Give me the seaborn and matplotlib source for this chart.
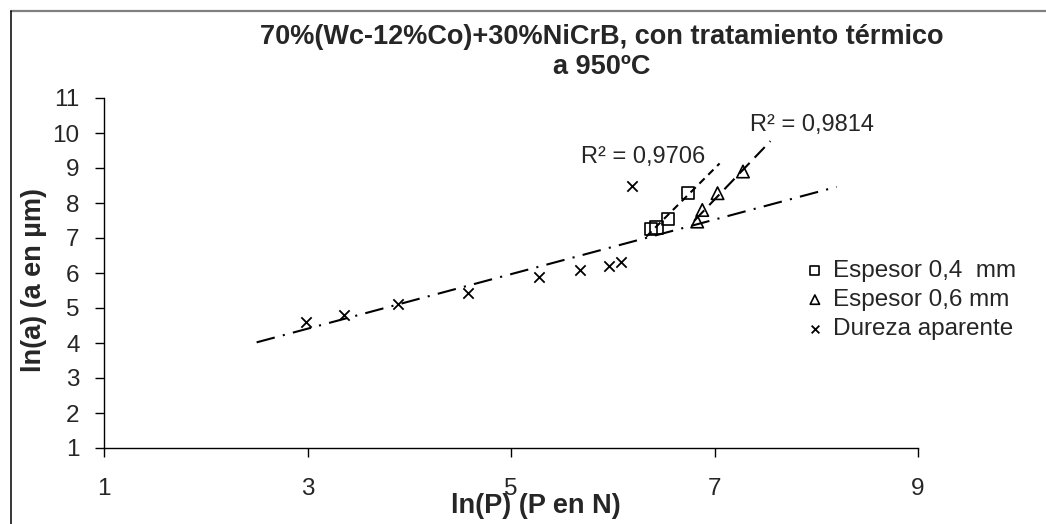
import numpy as np
import pandas as pd
import seaborn as sns
import matplotlib.pyplot as plt
from matplotlib.lines import Line2D

# datos: ln(P) y ln(a)
lnP_04 = [6.38, 6.43, 6.54, 6.74]
lna_04 = [7.27, 7.30, 7.55, 8.28]
lnP_06 = [6.83, 6.88, 7.03, 7.28]
lna_06 = [7.47, 7.80, 8.28, 8.90]
lnP_dur = [2.99, 3.36, 3.89, 4.58, 5.28, 5.68, 5.96, 6.08, 6.19]
lna_dur = [4.61, 4.80, 5.11, 5.42, 5.88, 6.10, 6.20, 6.32, 8.49]
series = ["Espesor 0,4  mm", "Espesor 0,6 mm", "Dureza aparente"]
r2_labels = ["R² = 0,9706", "R² = 0,9814"]

sns.set_style("ticks")
plt.rcParams["font.family"] = ["Liberation Sans", "DejaVu Sans"]

fig = plt.figure(figsize=(10.46, 5.24), dpi=100)
ax = fig.add_axes([104 / 1046, 76 / 524, 814 / 1046, 350 / 524])

d04 = pd.DataFrame({"x": lnP_04, "y": lna_04})
d06 = pd.DataFrame({"x": lnP_06, "y": lna_06})
ddur = pd.DataFrame({"x": lnP_dur, "y": lna_dur})

# líneas de tendencia (ajuste lineal)
def tendencia(df, x0, x1, ls):
    k, b = np.polyfit(df["x"], df["y"], 1)
    xs = np.array([x0, x1])
    sns.lineplot(x=xs, y=k * xs + b, ax=ax, color="black", lw=1.5,
                 linestyle=ls, legend=False)

tendencia(ddur, 2.5, 8.2, (0, (9, 4, 1, 4)))
tendencia(d04, 6.33, 7.05, (0, (3.5, 2.5)))
tendencia(d06, 6.80, 7.55, (0, (7, 3.5)))

sns.scatterplot(data=d04, x="x", y="y", marker="s", s=75, facecolors="none",
                edgecolor="black", linewidth=1.2, label=series[0], ax=ax, zorder=3)
sns.scatterplot(data=d06, x="x", y="y", marker="^", s=80, facecolors="none",
                edgecolor="black", linewidth=1.2, label=series[1], ax=ax, zorder=3)
sns.scatterplot(data=ddur, x="x", y="y", marker="x", s=55, color="black",
                linewidth=1.3, label=series[2], ax=ax, zorder=3)

ax.text(6.30, 9.31, r2_labels[0], fontsize=17, ha="center", va="center")
ax.text(7.96, 10.23, r2_labels[1], fontsize=17, ha="center", va="center")

ax.set_xlim(1, 9)
ax.set_ylim(1, 11)
ax.set_xticks([1, 3, 5, 7, 9])
ax.set_yticks(range(1, 12))
ax.tick_params(axis="both", labelsize=17.5, length=6.5, width=1, color="black")
ax.tick_params(axis="x", pad=15)
ax.tick_params(axis="y", pad=11)
for s in ["left", "bottom"]:
    ax.spines[s].set_color("black")
    ax.spines[s].set_linewidth(1)
sns.despine(ax=ax)

ax.set_xlabel("ln(P) (P en N)", fontsize=19.5, fontweight="bold", va="top")
ax.xaxis.set_label_coords(0.53, -0.128)
ax.set_ylabel("ln(a) (a en µm)", fontsize=19.5, fontweight="bold")
ax.yaxis.set_label_coords(-0.070, 0.48)

fig.text(602 / 1046, 1 - 52 / 524,
         "70%(Wc-12%Co)+30%NiCrB, con tratamiento térmico\na 950ºC",
         ha="center", va="center", fontsize=19.5, fontweight="bold",
         linespacing=1.2)

ax.legend(loc="center left", bbox_to_anchor=(793 / 1046, 1 - 300 / 524),
          bbox_transform=fig.transFigure, frameon=False, fontsize=17.5,
          markerscale=0.75, handlelength=0.8, handletextpad=0.35,
          labelspacing=0.3, borderpad=0)

# marco del gráfico
fig.add_artist(Line2D([10.7 / 1046, 1], [1 - 10.7 / 524] * 2, color="#808080", lw=1.6))
fig.add_artist(Line2D([10.7 / 1046] * 2, [0, 1 - 10.7 / 524], color="black", lw=1.1))

fig.savefig("out.png", dpi=100)
